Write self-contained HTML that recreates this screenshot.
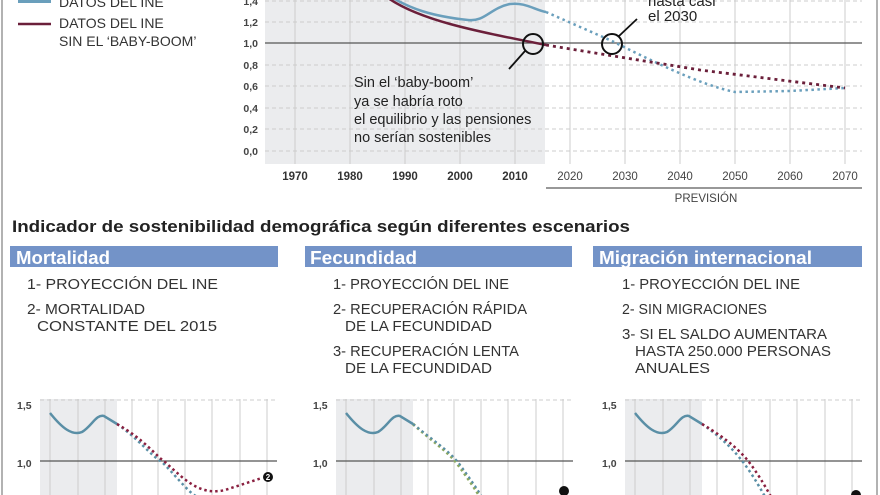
<!DOCTYPE html>
<html><head><meta charset="utf-8"><style>
html,body{margin:0;padding:0;background:#fff;}
svg{display:block;}
text{font-family:"Liberation Sans",sans-serif;}
</style></head><body>
<svg width="880" height="495" viewBox="0 0 880 495" xmlns="http://www.w3.org/2000/svg">
<line x1="2" y1="0" x2="2" y2="495" stroke="#999" stroke-width="1.5"/>
<line x1="877" y1="0" x2="877" y2="495" stroke="#999" stroke-width="1.5"/>
<rect x="18" y="-4" width="33" height="7" fill="#6a9fbc"/>
<text x="59" y="7" font-size="14" fill="#333">DATOS DEL INE</text>
<line x1="18" y1="24" x2="51" y2="24" stroke="#6b1f3a" stroke-width="2.5"/>
<text x="59" y="28" font-size="14" fill="#333">DATOS DEL INE</text>
<text x="59" y="46" font-size="14" fill="#333">SIN EL ‘BABY-BOOM’</text>
<rect x="265" y="0" width="280" height="164" fill="#ebecee"/>
<g stroke="#ccc" stroke-width="1">
<line x1="295" y1="0" x2="295" y2="164"/><line x1="350" y1="0" x2="350" y2="164"/><line x1="405" y1="0" x2="405" y2="164"/><line x1="460" y1="0" x2="460" y2="164"/><line x1="515" y1="0" x2="515" y2="164"/><line x1="570" y1="0" x2="570" y2="164"/><line x1="625" y1="0" x2="625" y2="164"/><line x1="680" y1="0" x2="680" y2="164"/><line x1="735" y1="0" x2="735" y2="164"/><line x1="790" y1="0" x2="790" y2="164"/><line x1="845" y1="0" x2="845" y2="164"/>
</g>
<g stroke="#ccc" stroke-dasharray="4,3">
<line x1="265" y1="1" x2="862" y2="1"/><line x1="265" y1="22" x2="862" y2="22"/><line x1="265" y1="65" x2="862" y2="65"/><line x1="265" y1="86" x2="862" y2="86"/><line x1="265" y1="108" x2="862" y2="108"/><line x1="265" y1="129" x2="862" y2="129"/><line x1="265" y1="151" x2="862" y2="151"/>
</g>
<line x1="265" y1="43" x2="862" y2="43" stroke="#555" stroke-width="1.2"/>
<g font-size="10.5" font-weight="bold" fill="#444" text-anchor="end">
<text x="258" y="5">1,4</text><text x="258" y="26">1,2</text><text x="258" y="47">1,0</text><text x="258" y="69">0,8</text><text x="258" y="90">0,6</text><text x="258" y="112">0,4</text><text x="258" y="133">0,2</text><text x="258" y="155">0,0</text>
</g>
<g font-size="11.5" font-weight="bold" fill="#333" text-anchor="middle">
<text x="295" y="180">1970</text><text x="350" y="180">1980</text><text x="405" y="180">1990</text><text x="460" y="180">2000</text><text x="515" y="180">2010</text>
</g>
<g font-size="11.5" fill="#444" text-anchor="middle">
<text x="570" y="180">2020</text><text x="625" y="180">2030</text><text x="680" y="180">2040</text><text x="735" y="180">2050</text><text x="790" y="180">2060</text><text x="845" y="180">2070</text>
</g>
<line x1="546" y1="188" x2="862" y2="188" stroke="#777" stroke-width="1.5"/>
<text x="706" y="202" font-size="11.5" fill="#444" text-anchor="middle">PREVISIÓN</text>
<path d="M393,-2 C410,8 430,16 468,20 C485,22 490,8 510,4 C525,2 535,10 546,12" fill="none" stroke="#6a9fbc" stroke-width="2.5"/>
<path d="M546,12 L612,41 C650,60 700,85 735,92 L790,91 L845,88" fill="none" stroke="#6a9fbc" stroke-width="2.5" stroke-dasharray="2.5,3.5"/>
<path d="M388,-2 C420,20 470,30 546,45" fill="none" stroke="#6b1f3a" stroke-width="2.5"/>
<path d="M546,45 L700,70 L845,88" fill="none" stroke="#6b1f3a" stroke-width="2.8" stroke-dasharray="3,4"/>
<circle cx="533" cy="44" r="10" fill="none" stroke="#111" stroke-width="2"/>
<circle cx="612" cy="44" r="10" fill="none" stroke="#111" stroke-width="2"/>
<line x1="525" y1="51" x2="509" y2="69" stroke="#111" stroke-width="1.8"/>
<line x1="619" y1="36" x2="637" y2="19" stroke="#111" stroke-width="1.8"/>
<text x="648" y="6" font-size="15" fill="#222">hasta casi</text>
<text x="648" y="21" font-size="15" fill="#222">el 2030</text>
<g font-size="14.5" fill="#222">
<text x="354" y="87">Sin el ‘baby-boom’</text><text x="354" y="106">ya se habría roto</text><text x="354" y="124">el equilibrio y las pensiones</text><text x="354" y="142">no serían sostenibles</text>
</g>
<text x="12" y="232" font-size="17" font-weight="bold" fill="#222" textLength="618" lengthAdjust="spacingAndGlyphs">Indicador de sostenibilidad demográfica según diferentes escenarios</text>
<rect x="10" y="246" width="268" height="21" fill="#7393c8"/>
<rect x="305" y="246" width="267" height="21" fill="#7393c8"/>
<rect x="593" y="246" width="269" height="21" fill="#7393c8"/>
<g font-size="18" font-weight="bold" fill="#fff">
<text x="16" y="264" textLength="94" lengthAdjust="spacingAndGlyphs">Mortalidad</text>
<text x="310" y="264" textLength="107" lengthAdjust="spacingAndGlyphs">Fecundidad</text>
<text x="599" y="264" textLength="213" lengthAdjust="spacingAndGlyphs">Migración internacional</text>
</g>
<g font-size="15" fill="#333">
<text x="27" y="289" textLength="191" lengthAdjust="spacingAndGlyphs">1- PROYECCIÓN DEL INE</text>
<text x="27" y="314" textLength="118" lengthAdjust="spacingAndGlyphs">2- MORTALIDAD</text>
<text x="37" y="331" textLength="180" lengthAdjust="spacingAndGlyphs">CONSTANTE DEL 2015</text>
<text x="333" y="289" textLength="176" lengthAdjust="spacingAndGlyphs">1- PROYECCIÓN DEL INE</text>
<text x="333" y="314" textLength="194" lengthAdjust="spacingAndGlyphs">2- RECUPERACIÓN RÁPIDA</text>
<text x="345" y="331" textLength="147" lengthAdjust="spacingAndGlyphs">DE LA FECUNDIDAD</text>
<text x="333" y="356" textLength="186" lengthAdjust="spacingAndGlyphs">3- RECUPERACIÓN LENTA</text>
<text x="345" y="373" textLength="147" lengthAdjust="spacingAndGlyphs">DE LA FECUNDIDAD</text>
<text x="622" y="289" textLength="178" lengthAdjust="spacingAndGlyphs">1- PROYECCIÓN DEL INE</text>
<text x="622" y="314" textLength="145" lengthAdjust="spacingAndGlyphs">2- SIN MIGRACIONES</text>
<text x="622" y="339" textLength="205" lengthAdjust="spacingAndGlyphs">3- SI EL SALDO AUMENTARA</text>
<text x="635" y="356" textLength="196" lengthAdjust="spacingAndGlyphs">HASTA 250.000 PERSONAS</text>
<text x="635" y="373" textLength="75" lengthAdjust="spacingAndGlyphs">ANUALES</text>
</g>
<defs>
<g id="sc">
<rect x="40" y="399" width="77" height="96" fill="#ebecee"/>
<g stroke="#ccc"><line x1="50" y1="399" x2="50" y2="495"/><line x1="78" y1="399" x2="78" y2="495"/><line x1="105" y1="399" x2="105" y2="495"/><line x1="132" y1="399" x2="132" y2="495"/><line x1="158" y1="399" x2="158" y2="495"/><line x1="185" y1="399" x2="185" y2="495"/><line x1="212" y1="399" x2="212" y2="495"/><line x1="240" y1="399" x2="240" y2="495"/><line x1="267" y1="399" x2="267" y2="495"/></g>
<line x1="40" y1="400" x2="277" y2="400" stroke="#ccc" stroke-dasharray="4,3"/>
<line x1="40" y1="461" x2="277" y2="461" stroke="#555" stroke-width="1.2"/>
<text x="17" y="409" font-size="10.5" font-weight="bold" fill="#444">1,5</text>
<text x="17" y="467" font-size="10.5" font-weight="bold" fill="#444">1,0</text>
<path d="M50,413 C62,428 72,436 82,432 C92,426 96,414 104,416 L117,424" fill="none" stroke="#5a8fa6" stroke-width="2.5"/>
</g>
</defs>
<use href="#sc"/>
<path d="M117,424 C140,440 150,455 162,462 C180,480 190,495 200,498" fill="none" stroke="#5a8fa6" stroke-width="2.5" stroke-dasharray="2.5,3"/>
<path d="M117,424 C145,440 155,455 165,462 C185,480 200,496 225,490 L262,478" fill="none" stroke="#8a2040" stroke-width="2.5" stroke-dasharray="2.5,3"/>
<circle cx="268" cy="477" r="5" fill="#111"/><text x="268" y="480" font-size="8" font-weight="bold" fill="#fff" text-anchor="middle">2</text>
<g transform="translate(296,0)">
<use href="#sc"/>
<path d="M117,424 C135,440 150,450 160,462 C172,478 180,490 186,500" fill="none" stroke="#8aa860" stroke-width="3" stroke-dasharray="2.5,3"/>
<path d="M117,424 C137,440 152,450 162,462 C174,478 182,490 188,500" fill="none" stroke="#5a8fa6" stroke-width="2" stroke-dasharray="2.5,3"/>
<circle cx="268" cy="491" r="5" fill="#111"/>
</g>
<g transform="translate(585,0)">
<use href="#sc"/>
<path d="M117,424 C140,440 150,452 158,462 C170,478 176,490 182,500" fill="none" stroke="#5a8fa6" stroke-width="2.5" stroke-dasharray="2.5,3"/>
<path d="M117,424 C144,440 156,452 164,462 C176,478 182,490 188,500" fill="none" stroke="#8a2040" stroke-width="2.5" stroke-dasharray="2.5,3"/>
<circle cx="271" cy="495" r="5" fill="#111"/>
</g>
</svg>
</body></html>
